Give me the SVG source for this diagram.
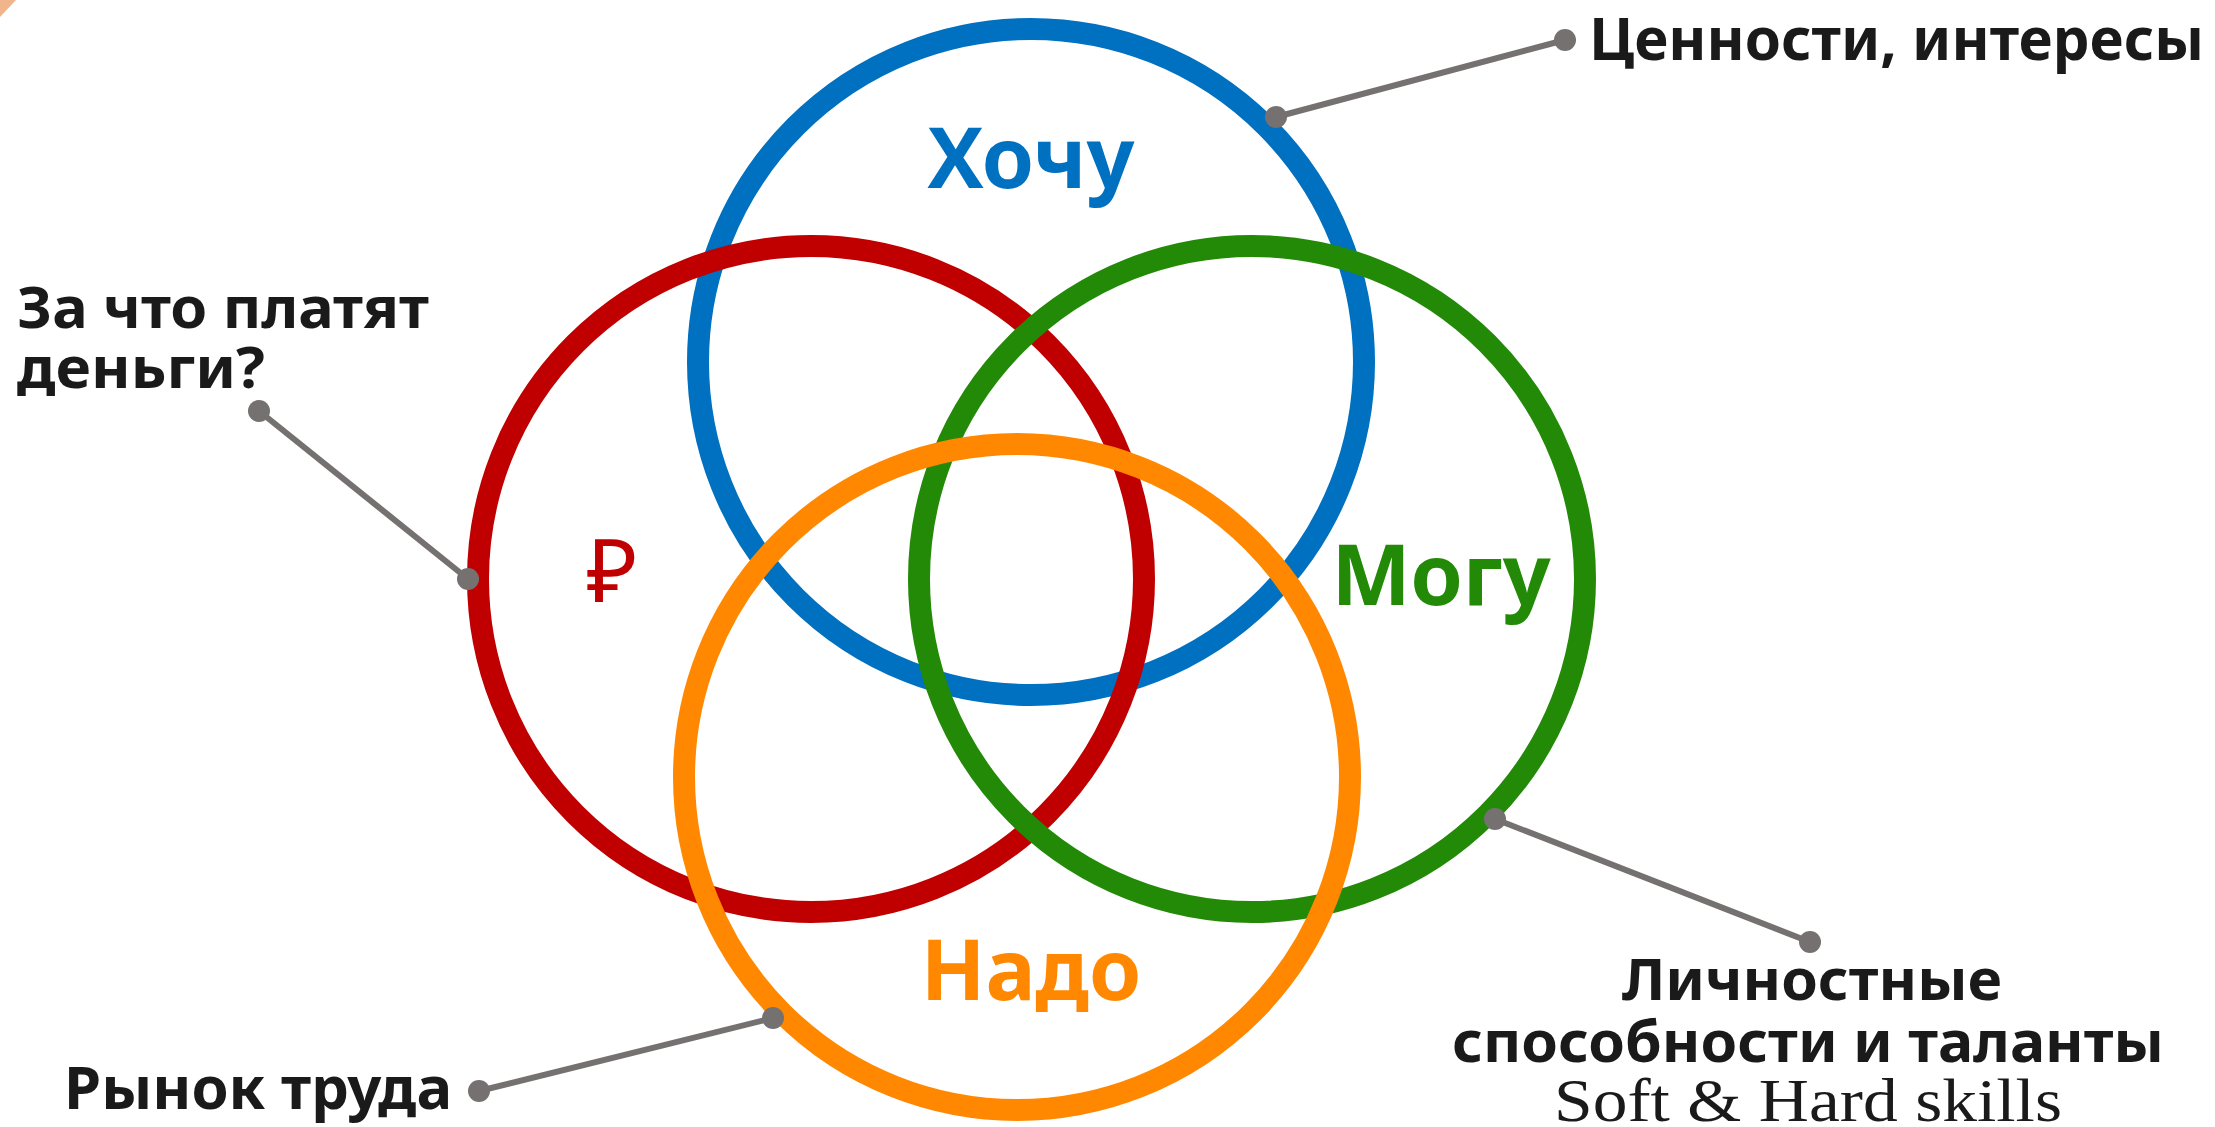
<svg xmlns="http://www.w3.org/2000/svg" width="2215" height="1127" viewBox="0 0 2215 1127">
<style>
.ring{fill:none;stroke-width:22}
.lbl{font-family:"Noto Sans","DejaVu Sans",sans-serif;font-weight:700;fill:#1a1a1a}
.big{font-family:"Noto Sans","DejaVu Sans",sans-serif;font-weight:700;font-size:84px;text-anchor:middle}
.con line{stroke:#767171;stroke-width:6}
.con circle{fill:#767171}
</style>
<rect width="2215" height="1127" fill="#ffffff"/>
<polygon points="0,0 16,0 0,17" fill="#f2b48a"/>
<g id="blue"><circle class="ring" cx="1031" cy="362" r="333" stroke="#0070c0"/><text class="big" x="1031" y="188" fill="#0070c0">Хочу</text></g>
<g id="red"><circle class="ring" cx="811" cy="579" r="333" stroke="#c00000"/><text x="612" y="602" fill="#c00000" font-family="'Noto Sans','DejaVu Sans',sans-serif" font-size="88" text-anchor="middle">₽</text></g>
<g id="green"><circle class="ring" cx="1252" cy="579" r="333" stroke="#238a08"/><text class="big" x="1441" y="605" fill="#238a08">Могу</text></g>
<g id="orange"><circle class="ring" cx="1017" cy="777" r="333" stroke="#ff8800"/><text class="big" x="1031" y="1000" fill="#ff8800">Надо</text></g>
<g id="connectors" class="con">
<line x1="1276" y1="117" x2="1565" y2="40"/><circle cx="1276" cy="117" r="11"/><circle cx="1565" cy="40" r="11"/>
<line x1="259" y1="411" x2="468" y2="579"/><circle cx="259" cy="411" r="11"/><circle cx="468" cy="579" r="11"/>
<line x1="1495" y1="819" x2="1810" y2="942"/><circle cx="1495" cy="819" r="11"/><circle cx="1810" cy="942" r="11"/>
<line x1="773" y1="1018" x2="479" y2="1091"/><circle cx="773" cy="1018" r="11"/><circle cx="479" cy="1091" r="11"/>
</g>
<g id="label-values"><text class="lbl" x="1589" y="60" font-size="60" textLength="615" lengthAdjust="spacingAndGlyphs">Ценности, интересы</text></g>
<g id="label-money"><text class="lbl" x="17" y="328" font-size="58" textLength="412" lengthAdjust="spacingAndGlyphs">За что платят</text><text class="lbl" x="17" y="388" font-size="58" textLength="248" lengthAdjust="spacingAndGlyphs">деньги?</text></g>
<g id="label-market"><text class="lbl" x="64" y="1109" font-size="60" textLength="388" lengthAdjust="spacingAndGlyphs">Рынок труда</text></g>
<g id="label-skills"><text class="lbl" x="1812" y="1000" font-size="58" text-anchor="middle" textLength="380" lengthAdjust="spacingAndGlyphs">Личностные</text><text class="lbl" x="1808" y="1062" font-size="58" text-anchor="middle" textLength="712" lengthAdjust="spacingAndGlyphs">способности и таланты</text><text x="1808" y="1121" font-family="'Liberation Serif','DejaVu Serif',serif" font-size="62" fill="#1a1a1a" text-anchor="middle" textLength="508" lengthAdjust="spacingAndGlyphs">Soft &amp; Hard skills</text></g>
</svg>
